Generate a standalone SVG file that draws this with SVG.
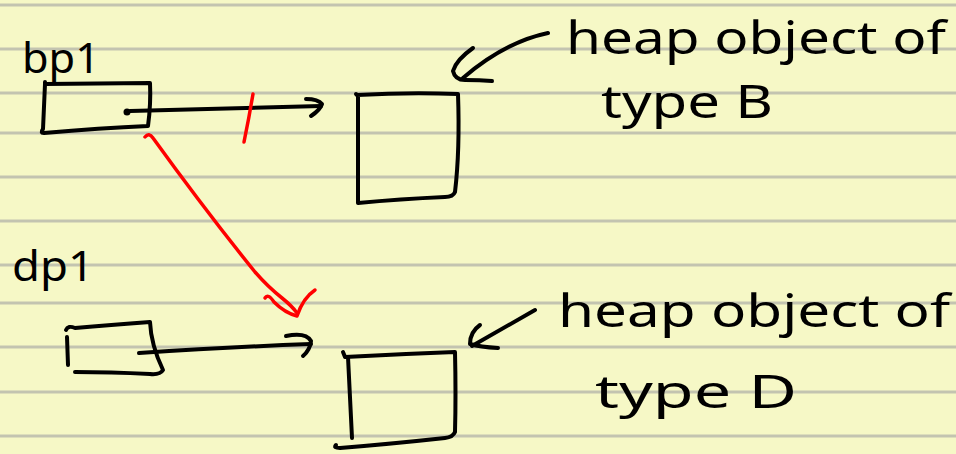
<svg xmlns="http://www.w3.org/2000/svg" width="956" height="454" viewBox="0 0 956 454">
  <defs>
    <style>
      .rule { stroke: #c3c4b0; stroke-width: 3; }
      .ink { fill: none; stroke: #000; stroke-width: 4; stroke-linecap: round; stroke-linejoin: round; }
      .red { fill: none; stroke: #ff0000; stroke-width: 3.5; stroke-linecap: round; stroke-linejoin: round; }
      .hand { font-family: "Noto Sans", "DejaVu Sans", sans-serif; fill: #000; }
    </style>
  </defs>

  <!-- ruled notepad paper -->
  <g id="paper">
    <rect x="0" y="0" width="956" height="454" fill="#f6f8c6"/>
    <line class="rule" x1="0" y1="5" x2="956" y2="5"/>
    <line class="rule" x1="0" y1="49" x2="956" y2="49"/>
    <line class="rule" x1="0" y1="93" x2="956" y2="93"/>
    <line class="rule" x1="0" y1="133" x2="956" y2="133"/>
    <line class="rule" x1="0" y1="177" x2="956" y2="177"/>
    <line class="rule" x1="0" y1="221" x2="956" y2="221"/>
    <line class="rule" x1="0" y1="265" x2="956" y2="265"/>
    <line class="rule" x1="0" y1="303" x2="956" y2="303"/>
    <line class="rule" x1="0" y1="347" x2="956" y2="347"/>
    <line class="rule" x1="0" y1="392" x2="956" y2="392"/>
    <line class="rule" x1="0" y1="436" x2="956" y2="436"/>
  </g>

  <!-- pointer variable bp1 -->
  <g id="bp1">
    <text class="hand" x="22" y="73" font-size="42" textLength="78" lengthAdjust="spacingAndGlyphs">bp1</text>
    <path class="ink" d="M45,82 L45,84 L150,83 Q151,104 148,126 Q100,128 44,133 Q40,133 43,129 L45,84"/>
    <circle cx="127" cy="112" r="3.5" fill="#000"/>
  </g>

  <!-- pointer variable dp1 -->
  <g id="dp1">
    <text class="hand" x="12" y="281" font-size="42" textLength="82" lengthAdjust="spacingAndGlyphs">dp1</text>
    <path class="ink" d="M66,330 Q68,325 75,328 Q110,325 150,322 Q151,345 163,370 Q160,375 150,374 Q110,372 75,372"/>
    <path class="ink" d="M67,337 L68,365"/>
  </g>

  <!-- heap object of type B -->
  <g id="heapB">
    <path class="ink" d="M356,94 L357,95 Q410,92 458,94 Q460,150 455,192 Q453,197 445,197 Q400,199 358,203 L358,96"/>
    <text class="hand" x="566" y="54" font-size="46" textLength="380" lengthAdjust="spacingAndGlyphs">heap object of</text>
    <text class="hand" x="601" y="118" font-size="46" textLength="172" lengthAdjust="spacingAndGlyphs">type B</text>
  </g>

  <!-- heap object of type D -->
  <g id="heapD">
    <path class="ink" d="M343,352 L345,357 Q400,354 455,352 Q456,395 455,432 Q453,437 445,438 Q390,444 340,448 Q333,448 336,445"/>
    <path class="ink" d="M348,357 Q350,400 352,438"/>
    <text class="hand" x="558" y="327" font-size="46" textLength="392" lengthAdjust="spacingAndGlyphs">heap object of</text>
    <text class="hand" x="595" y="408" font-size="46" textLength="202" lengthAdjust="spacingAndGlyphs">type D</text>
  </g>

  <!-- connectors -->
  <g id="connectors">
    <!-- bp1 -> object B (crossed out) -->
    <path class="ink" d="M130,111 Q230,108 321,106"/>
    <path class="ink" d="M306,99 Q318,99 322,104 Q320,110 311,116"/>
    <path class="red" d="M253,94 Q249,118 244,142"/>
    <!-- dp1 -> object D -->
    <path class="ink" d="M139,353 Q230,347 311,344"/>
    <path class="ink" d="M286,336 Q306,332 311,341 Q310,350 303,356"/>
    <!-- bp1 now pointing at object D -->
    <path class="red" d="M145,137 Q149,132 153,138 Q205,210 255,272 Q268,287 282,298 Q292,306 297,313"/>
    <path class="red" d="M265,298 Q268,293 274,302 Q285,313 297,316 Q303,298 315,290"/>
    <!-- callout arrows from the labels -->
    <path class="ink" d="M548,33 Q505,42 463,78"/>
    <path class="ink" d="M473,48 Q456,60 453,71 Q455,80 465,80 Q480,80 492,81"/>
    <path class="ink" d="M535,310 Q500,330 472,346"/>
    <path class="ink" d="M480,325 Q470,332 470,344 Q480,347 498,348"/>
  </g>
</svg>
